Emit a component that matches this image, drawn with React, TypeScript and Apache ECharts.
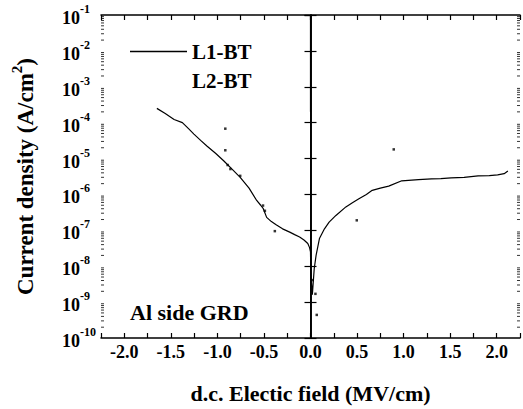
import React, { useEffect, useRef } from 'react';
import * as echarts from 'echarts';

// L1-BT: d.c. field (MV/cm) and current density (A/cm^2)
const l1Field = [
  -1.65, -1.56, -1.465, -1.376, -1.31, -1.252, -1.18, -1.11, -1.02, -0.933,
  -0.84, -0.755, -0.66, -0.578, -0.535, -0.507, -0.471, -0.42, -0.365, -0.30,
  -0.223, -0.17, -0.117, -0.07, -0.029, -0.01, 0.0, 0.003,
  0.02, 0.04, 0.06, 0.096, 0.15, 0.2, 0.273, 0.38, 0.45, 0.52, 0.60, 0.663,
  0.75, 0.84, 0.98, 1.16, 1.30, 1.40, 1.51, 1.65, 1.80, 1.92, 2.01, 2.08, 2.12,
];
const l1Current = [
  2.5e-4, 1.8e-4, 1.23e-4, 1.0e-4, 6.8e-5, 4.8e-5, 3.2e-5, 2.2e-5, 1.4e-5, 8.7e-6,
  5.0e-6, 3.0e-6, 1.5e-6, 6.8e-7, 5.0e-7, 4.0e-7, 2.3e-7, 1.75e-7, 1.4e-7, 1.1e-7,
  8.9e-8, 7.6e-8, 6.5e-8, 5.4e-8, 4.3e-8, 3.3e-8, 2.5e-8, 6.9e-9,
  1.6e-9, 8.5e-9, 2.0e-8, 5.9e-8, 1.1e-7, 1.7e-7, 2.6e-7, 4.5e-7, 5.9e-7, 7.6e-7, 1.0e-6, 1.3e-6,
  1.5e-6, 1.7e-6, 2.4e-6, 2.6e-6, 2.7e-6, 2.75e-6, 2.9e-6, 3.0e-6, 3.3e-6, 3.35e-6, 3.5e-6, 3.8e-6, 4.5e-6,
];
// vertical trace at zero field (part of L1-BT)
const zeroTraceField = [0.003, 0.003];
const zeroTraceCurrent = [1e-10, 1e-1];
const zeroTopField = [0.0, 0.0];
const zeroTopCurrent = [1e-1, 2e-4];

// L2-BT: scattered points
const l2Field = [-0.915, -0.915, -0.89, -0.86, -0.755, -0.51, -0.49, -0.383, 0.894, 0.497, 0.02, 0.053, 0.067];
const l2Current = [6.8e-5, 1.7e-5, 6.6e-6, 5.1e-6, 3.3e-6, 4.9e-7, 3.5e-7, 9.5e-8, 1.8e-5, 1.9e-7, 4.1e-9, 1.7e-9, 4.4e-10];

const xMin = -2.25;
const xMax = 2.25;
const xStep = 0.25;
const yMin = 1e-10;
const yMax = 1e-1;
const decades = [-10, -9, -8, -7, -6, -5, -4, -3, -2];
const minorMultipliers = [2, 3, 4, 5, 6, 7, 8, 9];

const FONT = "'Liberation Serif', 'Times New Roman', serif";

export default function App() {
  const ref = useRef<HTMLDivElement>(null);
  useEffect(() => {
    document.body.style.margin = '0';
    if (!ref.current) return;
    const chart = echarts.init(ref.current, undefined, { renderer: 'svg' });

    const l1Data = l1Field.map((x, i) => [x, l1Current[i]]);
    const zeroData = zeroTraceField.map((x, i) => [x, zeroTraceCurrent[i]]);
    const zeroTopData = zeroTopField.map((x, i) => [x, zeroTopCurrent[i]]);
    const l2Data = l2Field.map((x, i) => [x, l2Current[i]]);
    const minorData: number[][] = [];
    decades.forEach((d) => minorMultipliers.forEach((m) => minorData.push([0, m * Math.pow(10, d)])));

    const axisLine = { show: true, lineStyle: { color: '#000', width: 1.5 } };

    chart.setOption({
      animation: false,
      backgroundColor: '#fff',
      grid: { left: 101, right: 1, top: 15, bottom: 69 },
      legend: {
        orient: 'vertical',
        left: 125,
        top: 36,
        itemWidth: 57,
        itemHeight: 1.5,
        itemGap: 8,
        data: [
          { name: 'L1-BT', icon: 'rect', itemStyle: { color: '#000' } },
          { name: 'L2-BT', icon: 'rect', itemStyle: { opacity: 0 } },
        ],
        textStyle: { fontFamily: FONT, fontWeight: 'bold', fontSize: 21, color: '#000' },
      },
      graphic: [
        {
          type: 'text',
          left: 130,
          top: 301,
          style: { text: 'Al side GRD', font: `bold 22px ${FONT}`, fill: '#000' },
        },
      ],
      xAxis: [
        {
          type: 'value',
          min: xMin,
          max: xMax,
          interval: xStep,
          position: 'bottom',
          axisLine,
          axisTick: { inside: true, length: 5, lineStyle: { color: '#000', width: 1.2 } },
          splitLine: { show: false },
          axisLabel: {
            margin: 5,
            color: '#000',
            fontFamily: FONT,
            fontWeight: 'bold',
            fontSize: 18,
            formatter: (v: number) => (Math.abs(v * 2 - Math.round(v * 2)) < 1e-6 ? v.toFixed(1) : ''),
          },
          name: 'd.c. Electic field (MV/cm)',
          nameLocation: 'middle',
          nameGap: 44,
          nameTextStyle: { fontFamily: FONT, fontWeight: 'bold', fontSize: 22, color: '#000' },
        },
        {
          type: 'value',
          min: xMin,
          max: xMax,
          interval: xStep,
          position: 'top',
          axisLine,
          axisTick: { inside: true, length: 5, lineStyle: { color: '#000', width: 1.2 } },
          axisLabel: { show: false },
          splitLine: { show: false },
        },
      ],
      yAxis: [
        {
          type: 'log',
          logBase: 10,
          min: yMin,
          max: yMax,
          position: 'left',
          axisLine,
          axisTick: { inside: true, length: 6, lineStyle: { color: '#000', width: 1.2 } },
          splitLine: { show: false },
          axisLabel: {
            align: 'left',
            margin: 39,
            formatter: (v: number) => `{b|10}{s|${Math.round(Math.log10(v))}}`,
            rich: {
              b: { fontFamily: FONT, fontWeight: 'bold', fontSize: 18, color: '#000', lineHeight: 24, verticalAlign: 'bottom' },
              s: { fontFamily: FONT, fontWeight: 'bold', fontSize: 12, color: '#000', lineHeight: 24, verticalAlign: 'top' },
            },
          },
          name: '{a|Current density (A/cm}{s|2}{a|)}',
          nameLocation: 'middle',
          nameGap: 64,
          nameRotate: 90,
          nameTextStyle: {
            rich: {
              a: { fontFamily: FONT, fontWeight: 'bold', fontSize: 23, color: '#000', lineHeight: 28, verticalAlign: 'bottom' },
              s: { fontFamily: FONT, fontWeight: 'bold', fontSize: 15, color: '#000', lineHeight: 28, verticalAlign: 'top' },
            },
          },
        },
        {
          type: 'log',
          logBase: 10,
          min: yMin,
          max: yMax,
          position: 'right',
          axisLine,
          axisTick: { inside: true, length: 6, lineStyle: { color: '#000', width: 1.2 } },
          axisLabel: { show: false },
          splitLine: { show: false },
        },
      ],
      series: [
        {
          name: 'L1-BT',
          type: 'line',
          data: l1Data,
          symbol: 'none',
          lineStyle: { color: '#000', width: 1.2 },
          itemStyle: { color: '#000' },
          z: 3,
        },
        {
          name: 'L1-BT',
          type: 'line',
          data: zeroData,
          symbol: 'none',
          lineStyle: { color: '#000', width: 1.2 },
          itemStyle: { color: '#000' },
          z: 3,
        },
        {
          name: 'L1-BT',
          type: 'line',
          data: zeroTopData,
          symbol: 'none',
          lineStyle: { color: '#000', width: 1.2 },
          itemStyle: { color: '#000' },
          z: 3,
        },
        {
          name: 'L2-BT',
          type: 'scatter',
          data: l2Data,
          symbol: 'rect',
          symbolSize: 2.5,
          itemStyle: { color: '#000' },
          z: 4,
        },
        {
          type: 'custom',
          silent: true,
          clip: false,
          data: minorData,
          renderItem: (_params: any, api: any) => {
            const v = api.value(1);
            const pL = api.coord([xMin, v]);
            const pR = api.coord([xMax, v]);
            const style = { stroke: '#000', lineWidth: 0.8 };
            return {
              type: 'group',
              children: [
                { type: 'line', shape: { x1: pL[0], y1: pL[1], x2: pL[0] + 3, y2: pL[1] }, style },
                { type: 'line', shape: { x1: pR[0] - 3, y1: pR[1], x2: pR[0], y2: pR[1] }, style },
              ],
            };
          },
        },
      ],
    });
    return () => chart.dispose();
  }, []);
  return <div ref={ref} style={{ width: 523, height: 409 }} />;
}
